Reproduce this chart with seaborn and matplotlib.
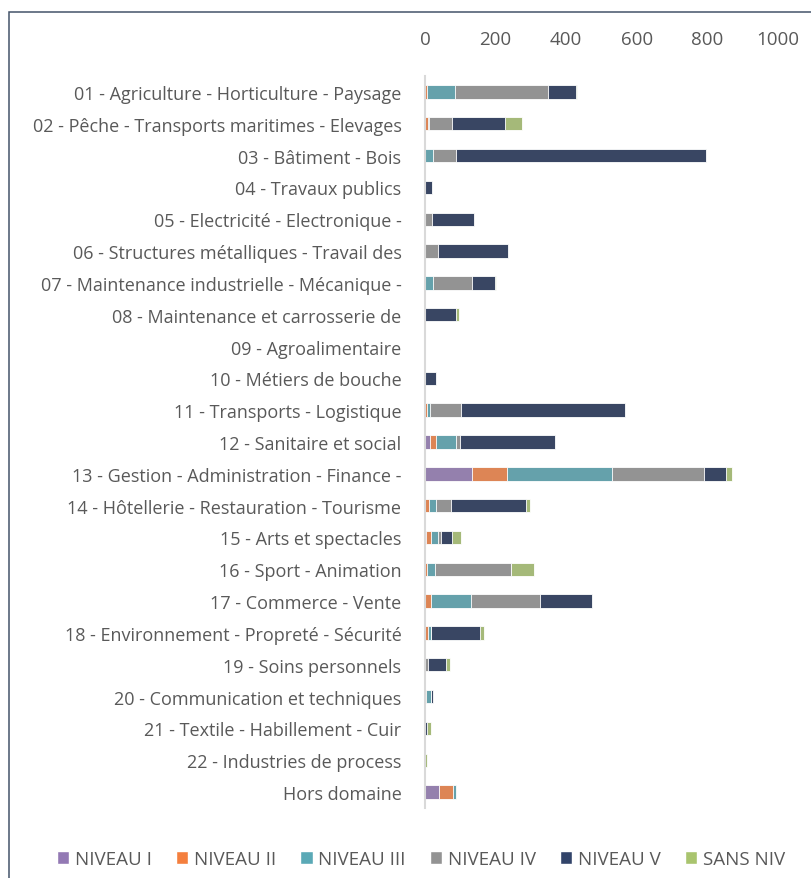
import pandas as pd
import seaborn as sns
import matplotlib.pyplot as plt
from matplotlib.patches import Patch, Rectangle

categories = [
    "01 - Agriculture - Horticulture - Paysage",
    "02 - Pêche - Transports maritimes - Elevages",
    "03 - Bâtiment - Bois",
    "04 - Travaux publics",
    "05 - Electricité - Electronique -",
    "06 - Structures métalliques - Travail des",
    "07 - Maintenance industrielle - Mécanique -",
    "08 - Maintenance et carrosserie de",
    "09 - Agroalimentaire",
    "10 - Métiers de bouche",
    "11 - Transports - Logistique",
    "12 - Sanitaire et social",
    "13 - Gestion - Administration - Finance -",
    "14 - Hôtellerie - Restauration - Tourisme",
    "15 - Arts et spectacles",
    "16 - Sport - Animation",
    "17 - Commerce - Vente",
    "18 - Environnement - Propreté - Sécurité",
    "19 - Soins personnels",
    "20 - Communication et techniques",
    "21 - Textile - Habillement - Cuir",
    "22 - Industries de process",
    "Hors domaine",
]

niveau_1 = [0, 0, 0, 0, 0, 0, 0, 0, 0, 0, 0, 15, 134, 0, 2, 0, 0, 0, 0, 0, 0, 0, 41]
niveau_2 = [6, 8, 0, 0, 0, 0, 0, 0, 1, 0, 7, 16, 97, 12, 14, 6, 18, 9, 0, 3, 0, 0, 37]
niveau_3 = [80, 2, 24, 0, 0, 0, 24, 0, 0, 0, 8, 57, 300, 18, 20, 23, 111, 8, 0, 14, 0, 0, 9]
niveau_4 = [262, 66, 64, 0, 21, 36, 108, 0, 0, 0, 87, 11, 260, 45, 8, 215, 198, 0, 8, 0, 0, 0, 0]
niveau_5 = [80, 150, 707, 20, 117, 198, 66, 88, 0, 32, 465, 270, 61, 212, 33, 0, 146, 139, 51, 7, 6, 0, 0]
sans_niv = [2, 48, 0, 0, 0, 0, 3, 7, 0, 0, 0, 0, 17, 10, 24, 64, 0, 10, 11, 0, 10, 6, 0]

levels = ["NIVEAU I", "NIVEAU II", "NIVEAU III", "NIVEAU IV", "NIVEAU V", "SANS NIV"]
colors = ["#9379B4", "#F47F3E", "#5AA9B6", "#939393", "#32446A", "#A9C46E"]

df = pd.DataFrame({"cat": categories, "NIVEAU I": niveau_1, "NIVEAU II": niveau_2,
                   "NIVEAU III": niveau_3, "NIVEAU IV": niveau_4, "NIVEAU V": niveau_5,
                   "SANS NIV": sans_niv})
cum = df[levels].cumsum(axis=1)

sns.set_theme(style="white")
plt.rcParams['font.family'] = ['Open Sans', 'DejaVu Sans']
text_col = "#595959"

fig = plt.figure(figsize=(8.11, 8.79), dpi=100)
ax = fig.add_axes([425 / 811, 1 - 809 / 879, 353 / 811, (809 - 77) / 879])

# stacked bars: draw cumulative totals from the largest down
for lev, col in reversed(list(zip(levels, colors))):
    sns.barplot(x=cum[lev], y=df["cat"], color=col, orient="h", width=0.42,
                edgecolor="white", linewidth=0.6, ax=ax)

ax.set_xlim(0, 1000)
ax.set_xticks(range(0, 1001, 200))
ax.xaxis.tick_top()
ax.tick_params(axis="x", length=0, pad=20, labelsize=13.5, labelcolor=text_col)
ax.tick_params(axis="y", length=0, pad=17, labelsize=13, labelcolor=text_col)
ax.set_xlabel("")
ax.set_ylabel("")
for s in ["top", "right", "bottom"]:
    ax.spines[s].set_visible(False)
ax.spines["left"].set_color("#d9d9d9")
ax.spines["left"].set_linewidth(1.5)

handles = [Patch(facecolor=c, label=l) for l, c in zip(levels, colors)]
fig.legend(handles=handles, loc="center", bbox_to_anchor=(421 / 811, 1 - 860 / 879),
           ncol=6, frameon=False, fontsize=13.5, handlelength=0.65, handleheight=0.65,
           handletextpad=0.3, columnspacing=1.3, labelcolor=text_col)

# chart frame (cut off at right and bottom)
fig.patches.append(Rectangle((9 / 811, -0.2), 2, 1.2 - 13 / 879, transform=fig.transFigure,
                             fill=False, edgecolor="#44546A", linewidth=1.1))

fig.savefig("out.png", dpi=100)
